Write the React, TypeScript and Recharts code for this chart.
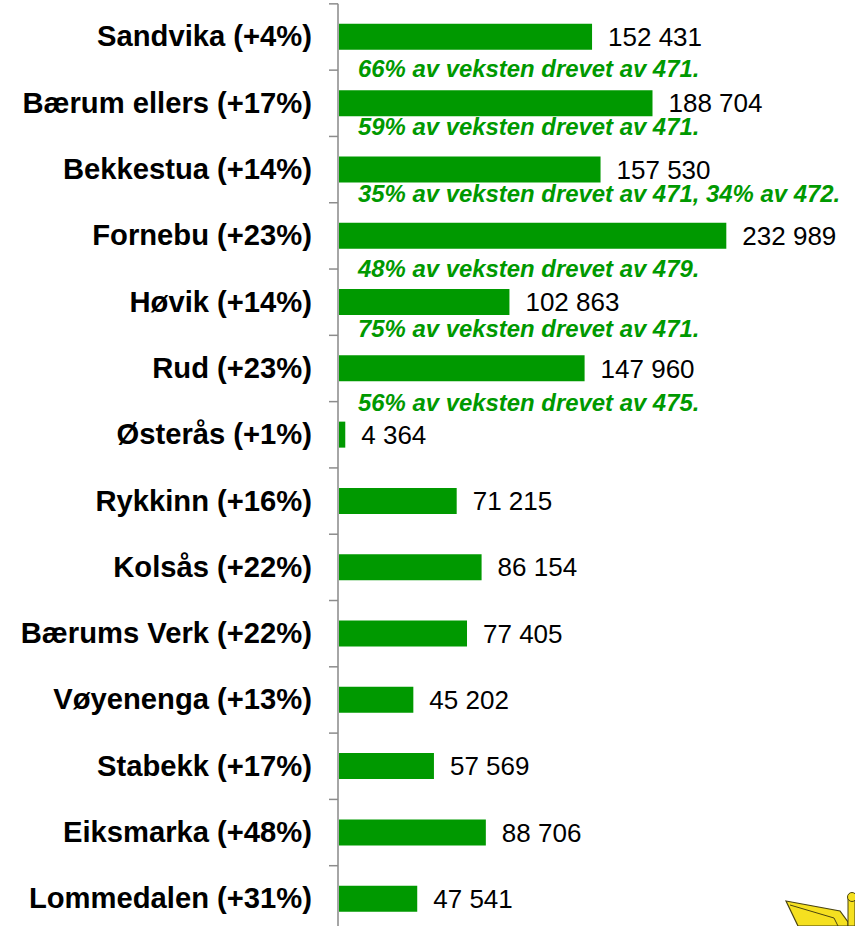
import React from 'react';
import { BarChart, Bar, XAxis, YAxis, LabelList } from 'recharts';

const categories = [
  'Sandvika (+4%)',
  'Bærum ellers (+17%)',
  'Bekkestua (+14%)',
  'Fornebu (+23%)',
  'Høvik (+14%)',
  'Rud (+23%)',
  'Østerås (+1%)',
  'Rykkinn (+16%)',
  'Kolsås (+22%)',
  'Bærums Verk (+22%)',
  'Vøyenenga (+13%)',
  'Stabekk (+17%)',
  'Eiksmarka (+48%)',
  'Lommedalen (+31%)',
];
const values = [152431, 188704, 157530, 232989, 102863, 147960, 4364, 71215, 86154, 77405, 45202, 57569, 88706, 47541];
const notes = [
  '66% av veksten drevet av 471.',
  '59% av veksten drevet av 471.',
  '35% av veksten drevet av 471, 34% av 472.',
  '48% av veksten drevet av 479.',
  '75% av veksten drevet av 471.',
  '56% av veksten drevet av 475.',
];
// how far below the bar's centre each note sits
const noteOffsets = [31, 23, 24, 32, 26, 34];

const data = categories.map((name, i) => ({ name, value: values[i] }));

const GREEN = '#009900';
const AXIS = '#a6a6a6';
const TICK = '#8c8c8c';
const BAND = 66.3;

const fmt = (v: number) => String(v).replace(/\B(?=(\d{3})+$)/g, ' ');

const CategoryTick = ({ x, y, payload }: any) => (
  <g>
    <line x1={x - 1} x2={x + 8} y1={y - BAND / 2} y2={y - BAND / 2} stroke={TICK} strokeWidth={1.5} />
    <text x={x - 18} y={y} dy={9.5} textAnchor="end" fontFamily="Liberation Sans" fontWeight="bold" fontSize={29.2} fill="#000">
      {payload.value}
    </text>
  </g>
);

const NoteLabel = ({ y, height, index }: any) => {
  if (index >= notes.length) return null;
  return (
    <text x={358} y={y + height / 2 + noteOffsets[index]} dy={8.8} fontFamily="Liberation Sans" fontWeight="bold" fontStyle="italic" fontSize={23.9} fill={GREEN}>
      {notes[index]}
    </text>
  );
};

export default function App() {
  return (
    <div style={{ position: 'absolute', left: 0, top: 0, width: 855, height: 926, overflow: 'hidden', background: '#fff' }}>
      <BarChart
        width={855}
        height={932}
        data={data}
        layout="vertical"
        margin={{ top: 3.85, right: 17, left: 0, bottom: 0 }}
        barCategoryGap={20}
      >
        <XAxis type="number" domain={[0, 300000]} hide />
        <YAxis
          type="category"
          dataKey="name"
          width={338}
          interval={0}
          tick={<CategoryTick />}
          tickLine={false}
          axisLine={{ stroke: AXIS, strokeWidth: 2 }}
        />
        <Bar dataKey="value" fill={GREEN} barSize={26} isAnimationActive={false}>
          <LabelList
            dataKey="value"
            position="right"
            offset={16}
            formatter={fmt}
            style={{ fontFamily: 'Liberation Sans', fontSize: 26, fill: '#000' }}
          />
          <LabelList dataKey="value" content={<NoteLabel />} />
        </Bar>
      </BarChart>
      {/* corner of the logo, cut off by the page edge */}
      <svg width={855} height={926} style={{ position: 'absolute', left: 0, top: 0, pointerEvents: 'none' }}>
        <path d="M786 901 L840 911 L848 922 L848 926 L798 926 Z" fill="#f5e020" stroke="#4a4410" strokeWidth={1.2} />
        <path d="M790 905 L834 918 L838 926" fill="none" stroke="#4a4410" strokeWidth={1} />
        <rect x={848} y={897} width={7} height={29} fill="#f5e020" stroke="#4a4410" strokeWidth={1} />
        <circle cx={852} cy={897} r={4.5} fill="#f5e020" stroke="#4a4410" strokeWidth={1} />
      </svg>
    </div>
  );
}
